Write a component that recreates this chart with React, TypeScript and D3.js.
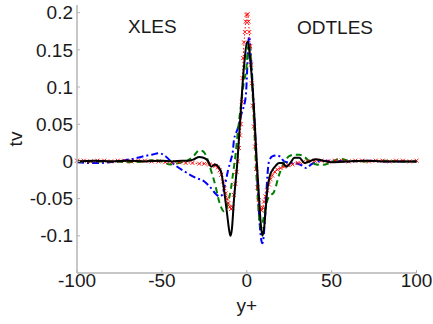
import React from "react";
import * as d3 from "d3";

const W = 433;
const H = 324;

const xTicks = [-100, -50, 0, 50, 100];
const yTicks = [-0.1, -0.05, 0, 0.05, 0.1, 0.15, 0.2];
const yTickLabels = ["-0.1", "-0.05", "0", "0.05", "0.1", "0.15", "0.2"];

const blackX = [-100, -90, -80, -70, -60, -50, -44, -38, -34, -31, -28, -25.5, -23, -21, -18.5, -16.5, -15, -13.4, -11.4, -10.4, -9.6, -8.8, -7.5, -5.5, -3.5, -1.6, 0.4, 2.4, 4.3, 5.9, 7.3, 8.3, 9.2, 10.3, 11.3, 12.3, 13.5, 15, 17, 19, 21, 23.5, 26, 28, 31, 34, 37, 40.5, 45, 50, 60, 70, 80, 90, 100];
const blackY = [0, 0.001, 0, 0.001, 0, 0.001, 0, 0.001, 0.001, 0.003, 0.006, 0.005, 0.001, -0.007, -0.004, -0.008, -0.015, -0.038, -0.074, -0.092, -0.1, -0.092, -0.051, 0, 0.069, 0.128, 0.161, 0.128, 0.069, 0, -0.051, -0.085, -0.1, -0.088, -0.06, -0.035, -0.02, -0.012, -0.006, -0.002, -0.002, -0.007, -0.001, 0.005, 0.005, -0.002, 0, 0.003, 0.001, -0.001, 0, 0.001, 0, 0, 0];

const redX = [-100, -96, -92, -88, -84, -80, -76, -72, -68, -64, -60, -56, -52, -48, -44, -40, -36, -32, -28, -25, -22, -20, -18.5, -17, -16, -15, -14, -13.2, -12.4, -11.6, -10.8, -10, -9.2, -8.4, -7.6, -6.8, -6, -5.3, -4.6, -4, -3.4, -2.9, -2.5, -2.1, -1.6, -1.1, -0.6, -0.1, 0.5, 1.0, 1.5, 2.0, 2.5, 3.0, 3.6, 4.2, 4.9, 5.6, 6.3, 7.0, 7.8, 8.6, 9.4, 10.2, 11, 12, 13, 14, 15, 16.5, 18, 20, 22, 24.5, 27, 30, 33, 36, 40, 44, 48, 52, 56, 60, 64, 68, 72, 76, 80, 84, 88, 92, 96, 100];
const redY = [0.001, 0.001, 0, 0.001, 0.001, 0, 0.001, 0.001, 0, 0.001, 0.001, 0, 0, -0.001, -0.001, -0.001, -0.002, -0.002, -0.003, -0.003, -0.004, -0.005, -0.006, -0.008, -0.012, -0.018, -0.027, -0.036, -0.043, -0.05, -0.056, -0.061, -0.064, -0.062, -0.045, -0.03, -0.014, 0, 0.018, 0.035, 0.05, 0.08, 0.112, 0.139, 0.16, 0.174, 0.188, 0.197, 0.198, 0.188, 0.174, 0.155, 0.13, 0.105, 0.075, 0.047, 0.02, -0.01, -0.035, -0.052, -0.063, -0.066, -0.062, -0.054, -0.047, -0.039, -0.031, -0.024, -0.019, -0.014, -0.011, -0.009, -0.007, -0.005, -0.004, -0.002, -0.001, 0, 0.001, 0.001, 0, 0.001, 0.001, 0, 0.001, 0.001, 0, 0.001, 0.001, 0, 0.001, 0.001, 0, 0.001];

const greenX = [-100, -90, -80, -70, -60, -55, -50, -45, -40, -35, -31, -28, -26, -24, -22, -20, -18.3, -16.5, -15, -13.5, -12.2, -11, -9.4, -8, -6.5, -5.5, -3.5, -1.6, -0.6, 1.4, 2.4, 3.5, 4.5, 5.5, 6.5, 7.5, 8.5, 9.6, 11, 12.5, 14, 15.5, 17, 18.5, 20, 21.5, 23, 25, 28, 31, 34, 37, 41, 45, 50, 55, 60, 70, 80, 90, 100];
const greenY = [0, 0, 0, -0.001, 0, 0.002, 0, -0.004, -0.002, 0.001, 0.008, 0.015, 0.014, 0.008, -0.005, -0.02, -0.034, -0.052, -0.062, -0.067, -0.065, -0.055, -0.038, -0.015, 0.011, 0.034, 0.074, 0.108, 0.118, 0.16, 0.14, 0.09, 0.04, -0.01, -0.05, -0.08, -0.09, -0.08, -0.062, -0.05, -0.045, -0.043, -0.035, -0.022, -0.012, -0.004, 0.002, 0.007, 0.009, 0.009, 0.006, 0, -0.004, -0.0045, -0.001, 0.0035, 0.001, 0, 0.001, 0, 0];

const blueX = [-100, -93, -86, -81, -76, -71, -66, -61.4, -56, -51.6, -47.7, -43.8, -37, -30, -25, -21, -18.5, -16, -14.5, -13, -11, -9, -8.4, -7.5, -5.5, -3, -0.6, 1.4, 2.5, 4, 5.5, 6.5, 7.5, 8.5, 9.2, 10, 11, 12.2, 13.1, 15, 17.5, 20, 22, 26, 30, 33, 35, 38, 42, 50, 60, 70, 80, 90, 100];
const blueY = [-0.001, -0.002, -0.002, -0.001, 0, 0.002, 0.004, 0.0067, 0.009, 0.011, 0.0067, -0.002, -0.013, -0.022, -0.027, -0.036, -0.043, -0.047, -0.045, -0.033, -0.012, 0.005, 0.01, 0.029, 0.043, 0.065, 0.087, 0.168, 0.14, 0.08, 0.01, -0.04, -0.08, -0.105, -0.11, -0.1, -0.065, -0.018, 0, 0.0067, 0.008, 0.006, 0, -0.002, -0.003, -0.006, -0.009, -0.004, 0, 0.001, 0, 0.001, 0, 0, 0];

const FONT = "'Liberation Sans', Arial, Helvetica, sans-serif";

export default function App() {
  const left = 77, right = 416.5, top = 5, bottom = 273;
  const x = d3.scaleLinear().domain([-100, 100]).range([left, right]);
  const y = d3.scaleLinear().domain([-0.15, 0.2103]).range([bottom, top]);

  const mk = (xs: number[], ys: number[]) =>
    d3
      .line<number>()
      .x((_, i) => x(xs[i]))
      .y((d) => y(d))
      .curve(d3.curveMonotoneX)(ys) || "";

  const axisColor = "#b4b4b4";
  const textColor = "#1a1a1a";
  const fs = 19;

  return (
    <svg width={W} height={H} style={{ position: "absolute", left: 0, top: 0 }} fontFamily={FONT}>
      <rect width={W} height={H} fill="#fff" />
      {/* curves */}
      <path d={mk(blueX, blueY)} fill="none" stroke="#0000ff" strokeWidth={2} strokeDasharray="7 3 2 3" />
      <path d={mk(greenX, greenY)} fill="none" stroke="#008000" strokeWidth={2} strokeDasharray="6 4" />
      <path d={mk(redX, redY)} fill="none" stroke="#ff0000" strokeWidth={1} strokeDasharray="1.5 2" />
      {redX.map((v, i) => {
        const cx = x(v), cy = y(redY[i]), s = 2;
        return (
          <path key={i} d={`M${cx - s},${cy - s}L${cx + s},${cy + s}M${cx - s},${cy + s}L${cx + s},${cy - s}`} stroke="#ff0000" strokeWidth={0.9} fill="none" />
        );
      })}
      <path d={mk(blackX, blackY)} fill="none" stroke="#000" strokeWidth={2} />
      {/* axes */}
      <line x1={left} x2={left} y1={top} y2={bottom} stroke={axisColor} strokeWidth={1.5} />
      <line x1={left} x2={right} y1={bottom} y2={bottom} stroke={axisColor} strokeWidth={1.5} />
      {yTicks.map((t, i) => (
        <g key={"y" + i}>
          <line x1={left} x2={left + 3} y1={y(t)} y2={y(t)} stroke={axisColor} strokeWidth={1} />
          <text x={left - 4} y={y(t)} dy="0.35em" textAnchor="end" fontSize={fs} fill={textColor}>
            {yTickLabels[i]}
          </text>
        </g>
      ))}
      {xTicks.map((t, i) => (
        <g key={"x" + i}>
          <line x1={x(t)} x2={x(t)} y1={bottom} y2={bottom - 3} stroke={axisColor} strokeWidth={1} />
          <text x={x(t)} y={287} textAnchor="middle" fontSize={fs} fill={textColor}>
            {t}
          </text>
        </g>
      ))}
      <text x={x(0)} y={312} textAnchor="middle" fontSize={fs} fill={textColor}>y+</text>
      <text transform={`translate(22,${(top + bottom) / 2}) rotate(-90)`} textAnchor="middle" fontSize={fs} fill={textColor}>tv</text>
      <text x={128} y={33} fontSize={fs} fill={textColor}>XLES</text>
      <text x={297} y={34} fontSize={fs} fill={textColor}>ODTLES</text>
    </svg>
  );
}
